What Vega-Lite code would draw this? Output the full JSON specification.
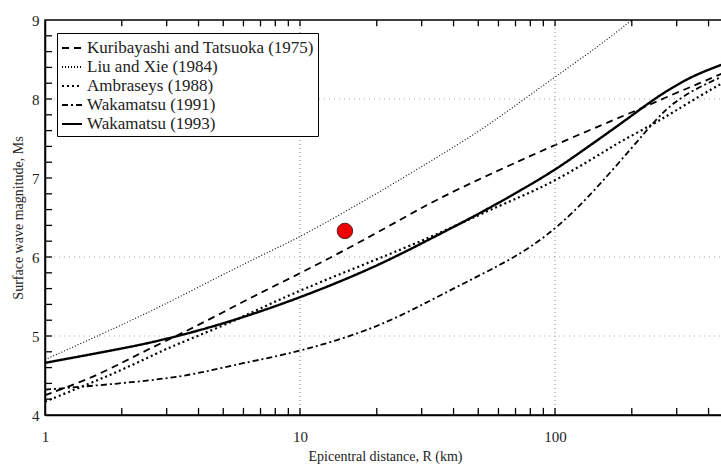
{
  "$schema": "https://vega.github.io/schema/vega-lite/v6.json",
  "autosize": {"type": "none"},
  "width": 680,
  "height": 395,
  "padding": {"left": 45, "top": 20, "right": 0, "bottom": 52},
  "background": "white",
  "config": {
    "font": "Liberation Serif",
    "view": {"stroke": "black", "strokeWidth": 1.5},
    "axis": {"domainColor": "black", "labelColor": "#222", "titleColor": "#222", "labelFont": "Liberation Serif", "titleFont": "Liberation Serif", "labelFontSize": 15, "titleFontSize": 14, "titleFontWeight": "normal", "grid": false, "domainWidth": 1.5, "ticks": false}
  },
  "datasets": {
    "curves": [
      {"series": "Kuribayashi and Tatsuoka (1975)", "R": 1, "M": 4.25},
      {"series": "Kuribayashi and Tatsuoka (1975)", "R": 1.5, "M": 4.46},
      {"series": "Kuribayashi and Tatsuoka (1975)", "R": 2, "M": 4.66},
      {"series": "Kuribayashi and Tatsuoka (1975)", "R": 2.5, "M": 4.82},
      {"series": "Kuribayashi and Tatsuoka (1975)", "R": 3.47, "M": 5.04},
      {"series": "Kuribayashi and Tatsuoka (1975)", "R": 5, "M": 5.3},
      {"series": "Kuribayashi and Tatsuoka (1975)", "R": 7, "M": 5.55},
      {"series": "Kuribayashi and Tatsuoka (1975)", "R": 10, "M": 5.79},
      {"series": "Kuribayashi and Tatsuoka (1975)", "R": 20, "M": 6.3},
      {"series": "Kuribayashi and Tatsuoka (1975)", "R": 32, "M": 6.68},
      {"series": "Kuribayashi and Tatsuoka (1975)", "R": 50, "M": 6.98},
      {"series": "Kuribayashi and Tatsuoka (1975)", "R": 73, "M": 7.22},
      {"series": "Kuribayashi and Tatsuoka (1975)", "R": 100, "M": 7.42},
      {"series": "Kuribayashi and Tatsuoka (1975)", "R": 180, "M": 7.77},
      {"series": "Kuribayashi and Tatsuoka (1975)", "R": 225, "M": 7.9},
      {"series": "Kuribayashi and Tatsuoka (1975)", "R": 290, "M": 8.06},
      {"series": "Kuribayashi and Tatsuoka (1975)", "R": 370, "M": 8.2},
      {"series": "Kuribayashi and Tatsuoka (1975)", "R": 464, "M": 8.34},

      {"series": "Liu and Xie (1984)", "R": 1, "M": 4.7},
      {"series": "Liu and Xie (1984)", "R": 2, "M": 5.14},
      {"series": "Liu and Xie (1984)", "R": 2.83, "M": 5.37},
      {"series": "Liu and Xie (1984)", "R": 5, "M": 5.78},
      {"series": "Liu and Xie (1984)", "R": 7.8, "M": 6.09},
      {"series": "Liu and Xie (1984)", "R": 10, "M": 6.25},
      {"series": "Liu and Xie (1984)", "R": 20, "M": 6.8},
      {"series": "Liu and Xie (1984)", "R": 32, "M": 7.2},
      {"series": "Liu and Xie (1984)", "R": 50, "M": 7.58},
      {"series": "Liu and Xie (1984)", "R": 73, "M": 7.96},
      {"series": "Liu and Xie (1984)", "R": 100, "M": 8.28},
      {"series": "Liu and Xie (1984)", "R": 150, "M": 8.68},
      {"series": "Liu and Xie (1984)", "R": 200, "M": 9.0},

      {"series": "Ambraseys (1988)", "R": 1, "M": 4.17},
      {"series": "Ambraseys (1988)", "R": 1.5, "M": 4.4},
      {"series": "Ambraseys (1988)", "R": 2, "M": 4.57},
      {"series": "Ambraseys (1988)", "R": 2.83, "M": 4.8},
      {"series": "Ambraseys (1988)", "R": 3.2, "M": 4.88},
      {"series": "Ambraseys (1988)", "R": 5, "M": 5.13},
      {"series": "Ambraseys (1988)", "R": 7, "M": 5.35},
      {"series": "Ambraseys (1988)", "R": 10, "M": 5.58},
      {"series": "Ambraseys (1988)", "R": 20, "M": 5.97},
      {"series": "Ambraseys (1988)", "R": 32, "M": 6.24},
      {"series": "Ambraseys (1988)", "R": 50, "M": 6.53},
      {"series": "Ambraseys (1988)", "R": 73, "M": 6.76},
      {"series": "Ambraseys (1988)", "R": 100, "M": 6.96},
      {"series": "Ambraseys (1988)", "R": 150, "M": 7.3},
      {"series": "Ambraseys (1988)", "R": 180, "M": 7.46},
      {"series": "Ambraseys (1988)", "R": 242, "M": 7.68},
      {"series": "Ambraseys (1988)", "R": 290, "M": 7.83},
      {"series": "Ambraseys (1988)", "R": 370, "M": 8.04},
      {"series": "Ambraseys (1988)", "R": 464, "M": 8.22},

      {"series": "Wakamatsu (1991)", "R": 1, "M": 4.32},
      {"series": "Wakamatsu (1991)", "R": 2, "M": 4.4},
      {"series": "Wakamatsu (1991)", "R": 3.17, "M": 4.47},
      {"series": "Wakamatsu (1991)", "R": 4.3, "M": 4.55},
      {"series": "Wakamatsu (1991)", "R": 5.8, "M": 4.65},
      {"series": "Wakamatsu (1991)", "R": 10, "M": 4.8},
      {"series": "Wakamatsu (1991)", "R": 20, "M": 5.1},
      {"series": "Wakamatsu (1991)", "R": 32, "M": 5.44},
      {"series": "Wakamatsu (1991)", "R": 50, "M": 5.76},
      {"series": "Wakamatsu (1991)", "R": 73, "M": 6.03},
      {"series": "Wakamatsu (1991)", "R": 100, "M": 6.35},
      {"series": "Wakamatsu (1991)", "R": 125, "M": 6.65},
      {"series": "Wakamatsu (1991)", "R": 150, "M": 6.92},
      {"series": "Wakamatsu (1991)", "R": 200, "M": 7.38},
      {"series": "Wakamatsu (1991)", "R": 250, "M": 7.75},
      {"series": "Wakamatsu (1991)", "R": 290, "M": 7.95},
      {"series": "Wakamatsu (1991)", "R": 360, "M": 8.14},
      {"series": "Wakamatsu (1991)", "R": 464, "M": 8.3},

      {"series": "Wakamatsu (1993)", "R": 1, "M": 4.66},
      {"series": "Wakamatsu (1993)", "R": 2, "M": 4.84},
      {"series": "Wakamatsu (1993)", "R": 2.83, "M": 4.94},
      {"series": "Wakamatsu (1993)", "R": 5, "M": 5.15},
      {"series": "Wakamatsu (1993)", "R": 10, "M": 5.48},
      {"series": "Wakamatsu (1993)", "R": 20, "M": 5.88},
      {"series": "Wakamatsu (1993)", "R": 32, "M": 6.22},
      {"series": "Wakamatsu (1993)", "R": 50, "M": 6.54},
      {"series": "Wakamatsu (1993)", "R": 73, "M": 6.84},
      {"series": "Wakamatsu (1993)", "R": 100, "M": 7.1},
      {"series": "Wakamatsu (1993)", "R": 130, "M": 7.36},
      {"series": "Wakamatsu (1993)", "R": 180, "M": 7.68},
      {"series": "Wakamatsu (1993)", "R": 242, "M": 7.99},
      {"series": "Wakamatsu (1993)", "R": 290, "M": 8.15},
      {"series": "Wakamatsu (1993)", "R": 350, "M": 8.3},
      {"series": "Wakamatsu (1993)", "R": 464, "M": 8.45}
    ],
    "gridx": [{"R": 10}, {"R": 100}],
    "gridy": [{"M": 5}, {"M": 6}, {"M": 8}],
    "xticks": [{"R": 2}, {"R": 3}, {"R": 4}, {"R": 5}, {"R": 6}, {"R": 7}, {"R": 8}, {"R": 9}, {"R": 10}, {"R": 20}, {"R": 30}, {"R": 40}, {"R": 50}, {"R": 60}, {"R": 70}, {"R": 80}, {"R": 90}, {"R": 100}, {"R": 200}, {"R": 300}, {"R": 400}],
    "yticks": [{"M": 4.2}, {"M": 4.4}, {"M": 4.6}, {"M": 4.8}, {"M": 5}, {"M": 5.2}, {"M": 5.4}, {"M": 5.6}, {"M": 5.8}, {"M": 6}, {"M": 6.2}, {"M": 6.4}, {"M": 6.6}, {"M": 6.8}, {"M": 7}, {"M": 7.2}, {"M": 7.4}, {"M": 7.6}, {"M": 7.8}, {"M": 8}, {"M": 8.2}, {"M": 8.4}, {"M": 8.6}, {"M": 8.8}],
    "point": [{"R": 15, "M": 6.33}]
  },
  "layer": [
    {
      "data": {"name": "curves"},
      "transform": [{"filter": "datum.series == 'Kuribayashi and Tatsuoka (1975)'"}],
      "mark": {"type": "line", "color": "black", "clip": true, "interpolate": "basis", "strokeWidth": 1.8},
      "encoding": {
        "x": {
          "field": "R", "type": "quantitative",
          "scale": {"type": "log", "domain": [1, 464], "nice": false},
          "axis": {"title": "Epicentral distance, R (km)", "values": [1, 10, 100], "labelPadding": 14, "titlePadding": 5, "labelFlush": false, "ticks": false}
        },
        "y": {
          "field": "M", "type": "quantitative",
          "scale": {"domain": [4, 9], "nice": false, "zero": false},
          "axis": {"title": "Surface wave magnitude, Ms", "values": [4, 5, 6, 7, 8, 9], "format": "d", "labelPadding": 6, "titlePadding": 6, "ticks": false}
        },
        "strokeDash": {
          "field": "series", "type": "nominal",
          "scale": {
            "domain": ["Kuribayashi and Tatsuoka (1975)", "Liu and Xie (1984)", "Ambraseys (1988)", "Wakamatsu (1991)", "Wakamatsu (1993)"],
            "range": [[7, 5], [1, 2], [2, 3], [6, 3, 2, 3], [1, 0]]
          },
          "legend": {
            "title": null, "orient": "none", "legendX": 12, "legendY": 13,
            "strokeColor": "black", "fillColor": "white", "padding": 4,
            "labelFont": "Liberation Serif", "labelFontSize": 17, "labelColor": "#222", "labelLimit": 320, "labelOffset": 4,
            "symbolType": "stroke", "symbolStrokeColor": "black", "symbolStrokeWidth": 1.8, "symbolSize": 400,
            "rowPadding": 0
          }
        }
      }
    },
    {
      "data": {"name": "gridx"},
      "mark": {"type": "rule", "color": "#999", "strokeDash": [1, 3], "strokeWidth": 1.2},
      "encoding": {"x": {"field": "R", "type": "quantitative", "scale": {"type": "log"}}}
    },
    {
      "data": {"name": "gridy"},
      "mark": {"type": "rule", "color": "#aaa", "strokeDash": [1, 4], "strokeWidth": 1.2},
      "encoding": {"y": {"field": "M", "type": "quantitative"}}
    },
    {
      "data": {"name": "xticks"},
      "mark": {"type": "rule", "color": "black", "strokeWidth": 1.3},
      "encoding": {"x": {"field": "R", "type": "quantitative", "scale": {"type": "log"}}, "y": {"datum": 4}, "y2": {"datum": 4.09}}
    },
    {
      "data": {"name": "xticks"},
      "mark": {"type": "rule", "color": "black", "strokeWidth": 1.3},
      "encoding": {"x": {"field": "R", "type": "quantitative", "scale": {"type": "log"}}, "y": {"datum": 9}, "y2": {"datum": 8.92}}
    },
    {
      "data": {"name": "yticks"},
      "mark": {"type": "rule", "color": "black", "strokeWidth": 1.3},
      "encoding": {"y": {"field": "M", "type": "quantitative"}, "x": {"datum": 1}, "x2": {"datum": 1.065}}
    },
    {
      "data": {"name": "curves"},
      "transform": [{"filter": "datum.series == 'Liu and Xie (1984)'"}],
      "mark": {"type": "line", "color": "black", "clip": true, "interpolate": "basis", "strokeWidth": 1.1},
      "encoding": {"x": {"field": "R", "type": "quantitative", "scale": {"type": "log"}}, "y": {"field": "M", "type": "quantitative"}, "strokeDash": {"field": "series", "type": "nominal"}}
    },
    {
      "data": {"name": "curves"},
      "transform": [{"filter": "datum.series == 'Ambraseys (1988)'"}],
      "mark": {"type": "line", "color": "black", "clip": true, "interpolate": "basis", "strokeWidth": 2.2},
      "encoding": {"x": {"field": "R", "type": "quantitative", "scale": {"type": "log"}}, "y": {"field": "M", "type": "quantitative"}, "strokeDash": {"field": "series", "type": "nominal"}}
    },
    {
      "data": {"name": "curves"},
      "transform": [{"filter": "datum.series == 'Wakamatsu (1991)'"}],
      "mark": {"type": "line", "color": "black", "clip": true, "interpolate": "basis", "strokeWidth": 1.8},
      "encoding": {"x": {"field": "R", "type": "quantitative", "scale": {"type": "log"}}, "y": {"field": "M", "type": "quantitative"}, "strokeDash": {"field": "series", "type": "nominal"}}
    },
    {
      "data": {"name": "curves"},
      "transform": [{"filter": "datum.series == 'Wakamatsu (1993)'"}],
      "mark": {"type": "line", "color": "black", "clip": true, "interpolate": "basis", "strokeWidth": 2.4},
      "encoding": {"x": {"field": "R", "type": "quantitative", "scale": {"type": "log"}}, "y": {"field": "M", "type": "quantitative"}, "strokeDash": {"field": "series", "type": "nominal"}}
    },
    {
      "data": {"name": "point"},
      "mark": {"type": "point", "filled": true, "fill": "#ee0000", "stroke": "#552222", "strokeWidth": 1, "size": 240, "opacity": 1},
      "encoding": {"x": {"field": "R", "type": "quantitative", "scale": {"type": "log"}}, "y": {"field": "M", "type": "quantitative"}}
    }
  ]
}
